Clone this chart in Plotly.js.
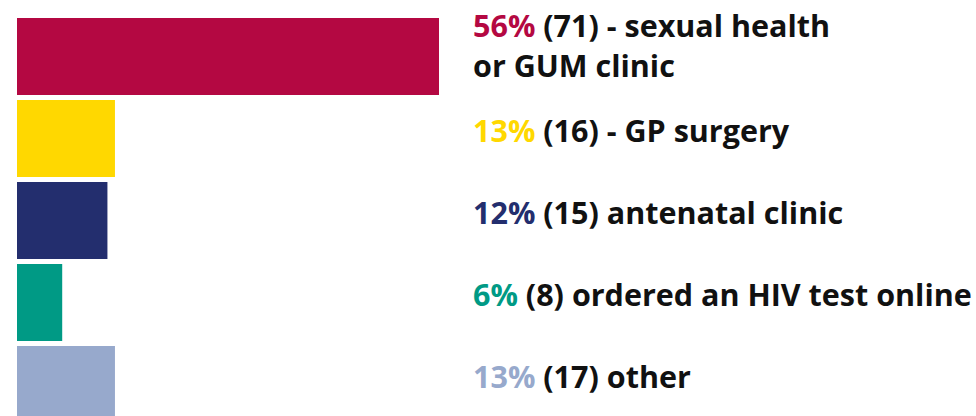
<!DOCTYPE html>
<html>
<head>
<meta charset="utf-8">
<script src="https://cdn.plot.ly/plotly-3.0.1.min.js"></script>
<style>html,body{margin:0;padding:0;background:#fff;}#chart{width:976px;height:416px;}</style>
</head>
<body>
<div id="chart"></div>
<script>
var categories = ["sexual health or GUM clinic", "GP surgery", "antenatal clinic", "ordered an HIV test online", "other"];
var percents = [56, 13, 12, 6, 13];
var counts = [71, 16, 15, 8, 17];
var labelTexts = [" - sexual health<br>or GUM clinic", " - GP surgery", " antenatal clinic", " ordered an HIV test online", " other"];
var barColors = ["#B40842", "#FFD800", "#232E6E", "#009A85", "#97A9CC"];

var pxPerUnit = 422 / 56;
var plotW = 976 - 17;
var xMax = plotW / pxPerUnit;
var textX = (471 - 17) / pxPerUnit;

var trace = {
  type: "bar",
  orientation: "h",
  x: percents,
  y: categories,
  marker: {color: barColors},
  hoverinfo: "none"
};

var annotations = categories.map(function (c, i) {
  var multi = labelTexts[i].indexOf("<br>") >= 0;
  return {
    x: textX, y: c, xref: "x", yref: "y",
    xanchor: "left", yanchor: "middle", align: "left",
    showarrow: false, yshift: multi ? 12 : 9,
    text: '<span style="color:' + barColors[i] + '">' + percents[i] + '%</span> (' + counts[i] + ')' + labelTexts[i],
    font: {family: "Open Sans, sans-serif", size: 30.5, color: "#111111", weight: 700}
  };
});

var layout = {
  width: 976, height: 416,
  margin: {l: 17, r: 0, t: 0, b: 0, pad: 0},
  paper_bgcolor: "#ffffff", plot_bgcolor: "#ffffff",
  bargap: 5 / 82,
  showlegend: false,
  xaxis: {range: [0, xMax], visible: false, fixedrange: true},
  yaxis: {type: "category", range: [(416 - 56.5) / 82, -56.5 / 82], visible: false, fixedrange: true},
  annotations: annotations
};

Plotly.newPlot("chart", [trace], layout, {displayModeBar: false, staticPlot: true});
</script>
</body>
</html>
